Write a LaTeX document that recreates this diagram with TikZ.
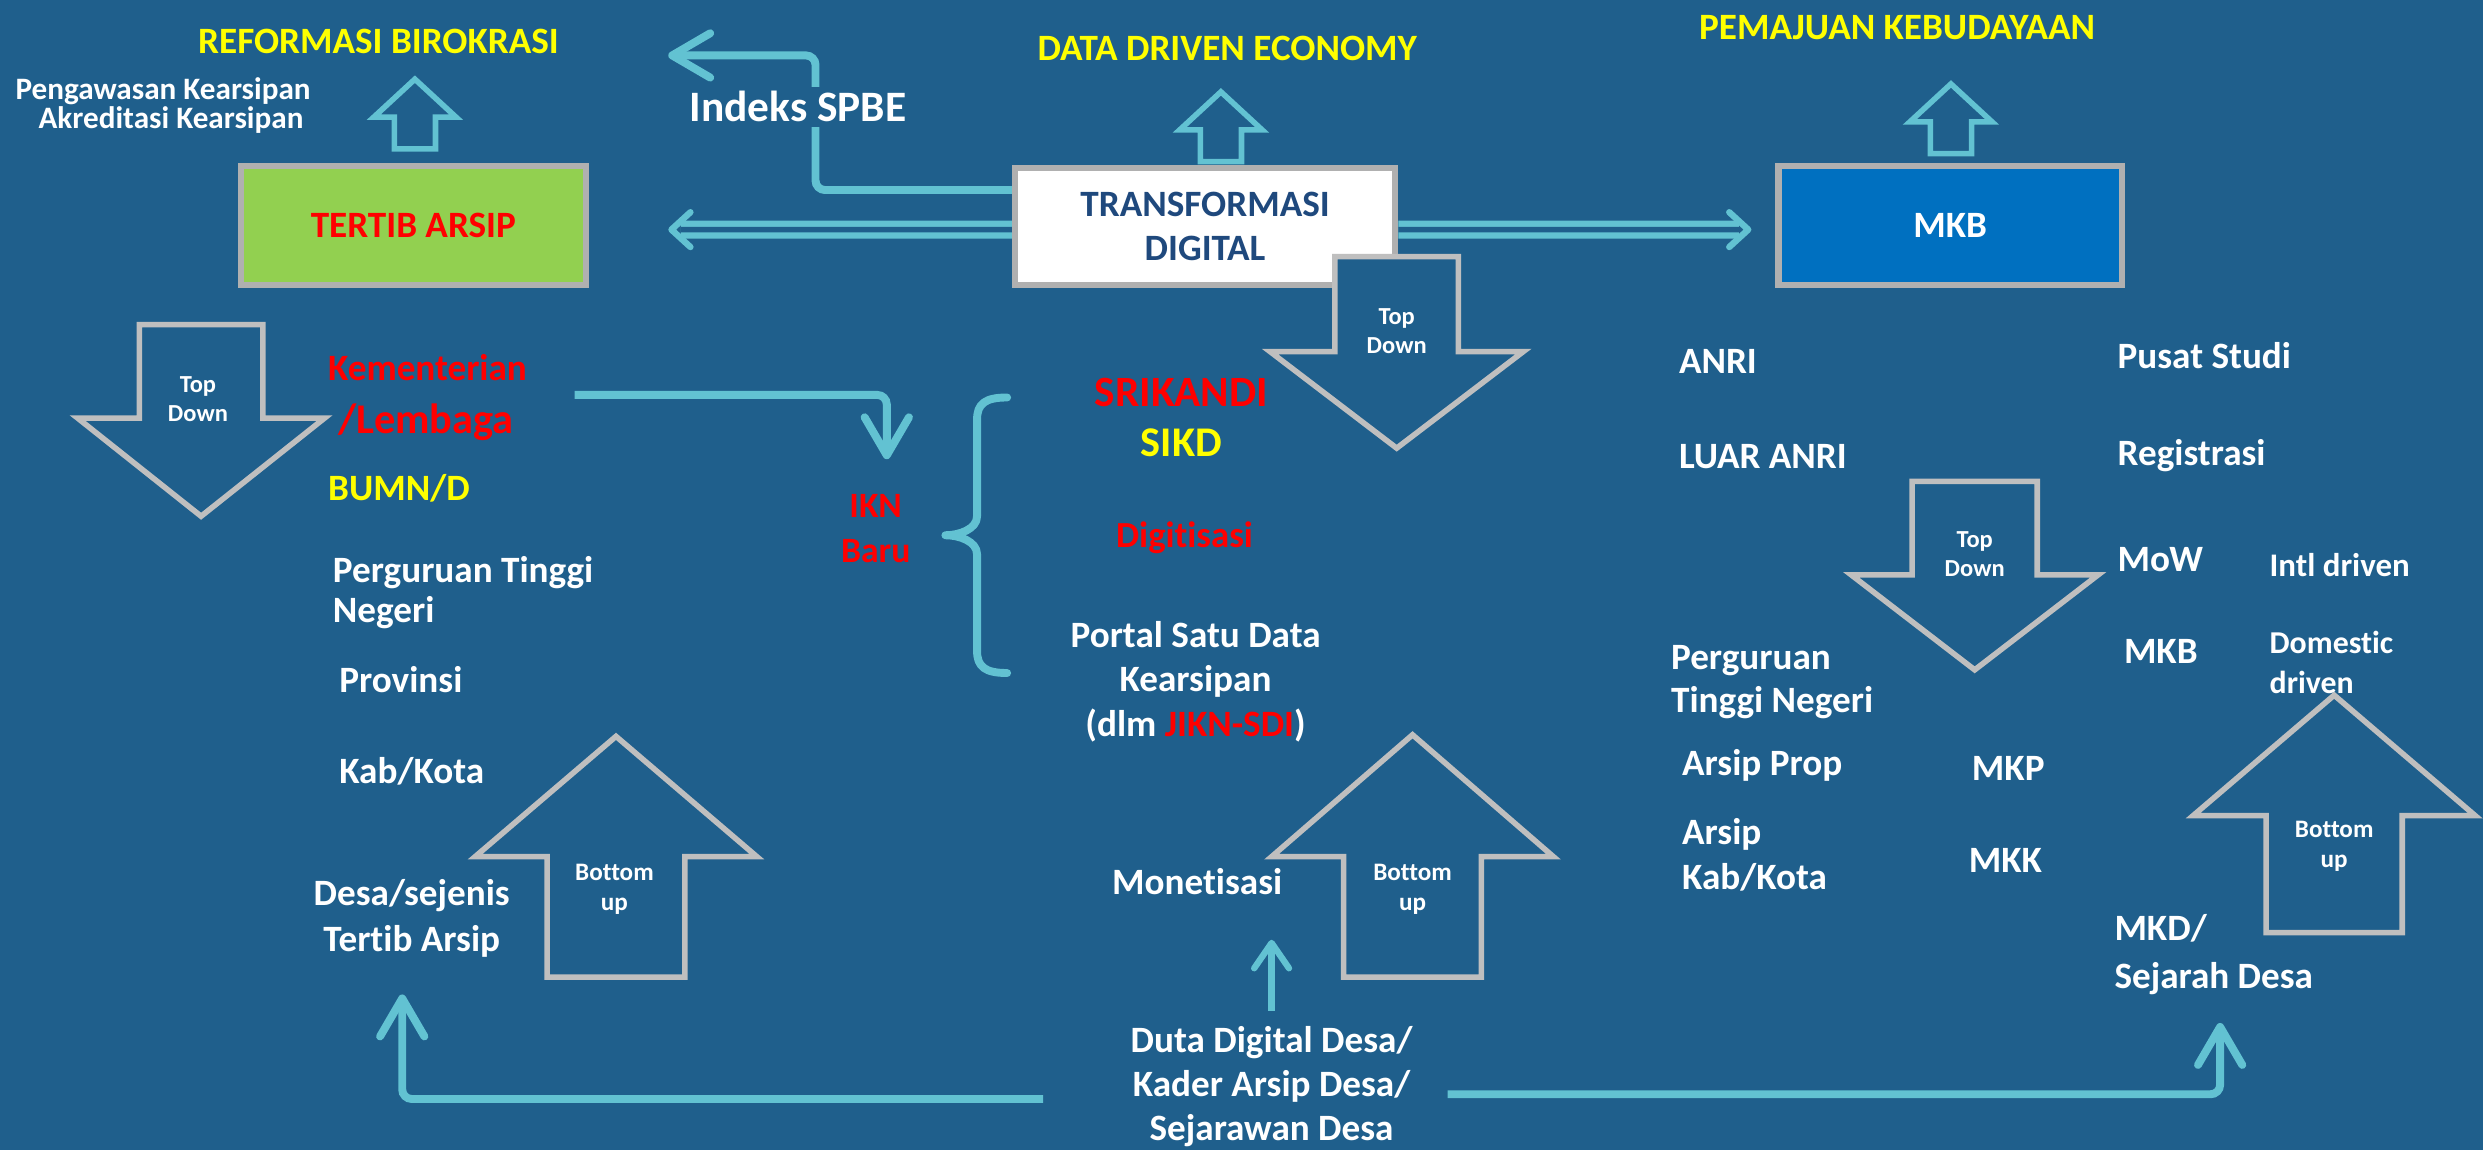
\documentclass[tikz,border=0pt]{standalone}
\usepackage{fontspec}
\setmainfont{Carlito}[Ligatures=NoCommon]
\usetikzlibrary{arrows.meta,calc}
\definecolor{bg}{HTML}{1F5F8C}
\definecolor{cy}{HTML}{62C2D2}
\definecolor{gr}{HTML}{BFBFBF}
\definecolor{boxgr}{HTML}{B0B0B0}
\definecolor{tdblue}{HTML}{1F497D}
\definecolor{ylw}{HTML}{FFFF00}
\definecolor{rd}{HTML}{FF0000}
\definecolor{grn}{HTML}{92D050}
\definecolor{mkbblue}{HTML}{0070C0}
\newcommand\fs[2]{\fontsize{#1}{#2}\selectfont}
\tikzset{
  pics/uparrow/.style n args={4}{code={
    \path[pic actions] (-#1,0) -- (-#1,-#3) -- (-#2,-#3) -- (0,{-#3-#4}) -- (#2,-#3) -- (#1,-#3) -- (#1,0) -- cycle;
  }},
  pics/downarrow/.style n args={4}{code={
    \path[pic actions] (-#1,0) -- (-#1,#3) -- (-#2,#3) -- (0,{#3+#4}) -- (#2,#3) -- (#1,#3) -- (#1,0) -- cycle;
  }},
}
\begin{document}
\begin{tikzpicture}[x=0.25mm,y=-0.25mm,
  txt/.style={inner sep=0pt, text=white, font=\bfseries\fs{16.7}{20}},
  hdr/.style={txt, text=ylw},
  box/.style={draw=boxgr, line width=1mm, minimum width=54.5mm, minimum height=18.75mm, inner sep=0pt, font=\bfseries\fs{16.7}{20}},
  conn/.style={draw=cy, line width=1.25mm, rounded corners=1.5mm, -{Straight Barb[length=6mm,width=7mm,round]}},
  hollowup/.style={draw=cy, line width=0.875mm},
  block/.style={draw=gr, fill=bg, line width=0.875mm},
  small/.style={inner sep=0pt, text=white, font=\bfseries\fs{11}{12.8}, align=center},
  dbl/.style={draw=cy, line width=1mm, double=bg, double distance=0.875mm},
  chev/.style={draw=cy, line width=1mm, line cap=round, line join=round},
  brace/.style={draw=cy, line width=1.25mm, line cap=round, line join=round},
]
\fill[bg] (0,0) rectangle (1568,726);
\useasboundingbox (0,0) rectangle (1568,726);

% headers
\node[hdr, anchor=base] (rb) at (239,34) {REFORMASI BIROKRASI};
\node[hdr, anchor=base] (dde) at (775,38) {DATA DRIVEN ECONOMY};
\node[hdr, anchor=base] (pk) at (1198,25) {PEMAJUAN KEBUDAYAAN};
\node[txt, font=\bfseries\fs{14}{16}, anchor=base] (pg) at (103,63) {Pengawasan Kearsipan};
\node[txt, font=\bfseries\fs{14}{16}, anchor=base] (ak) at (108,81) {Akreditasi Kearsipan};

% hollow up arrows
\pic[hollowup] at (262,94) {uparrow={13}{26}{20}{24}};
\pic[hollowup] at (771,102) {uparrow={13}{26}{20}{24}};
\pic[hollowup] at (1232,97) {uparrow={13}{26}{20}{24}};

% boxes
\node[box, fill=grn, text=rd] (ta) at (261,142.5) {TERTIB ARSIP};
\node[box, fill=white, text=tdblue, align=center, minimum width=60mm, minimum height=18.5mm] (td) at (761,143) {TRANSFORMASI\\DIGITAL};
\node[box, fill=mkbblue, text=white, minimum width=54.25mm] (mkb) at (1231.5,142.5) {MKB};

% elbow to reformasi
\coordinate (y120) at (0,120);
\coordinate (rbtip) at (422,35);
\draw[conn] (td.west |- y120) -| (515,35) -- (rbtip);
\node[txt, font=\bfseries\fs{19.5}{23}, anchor=base, fill=bg, inner sep=2pt] (spbe) at (504,77) {Indeks SPBE};

% double arrows
\coordinate (lt) at (424,145);
\coordinate (rt) at (1104,145);
\draw[dbl] ([yshift=-0.5mm]td.west) -- ([xshift=1.5mm]lt);
\draw[chev] ([shift={(12,-11)}]lt) -- (lt) -- ([shift={(12,11)}]lt);
\draw[dbl] ([yshift=-0.5mm]td.east) -- ([xshift=-1.5mm]rt);
\draw[chev] ([shift={(-12,-11)}]rt) -- (rt) -- ([shift={(-12,11)}]rt);

% top down arrows
\pic[block] at (882,162) {downarrow={39}{80}{60}{61}};
\node[small, anchor=base] (tdd1) at (882,223) {Top\\Down};
\pic[block] at (127,205) {downarrow={39}{78}{59}{62}};
\node[small, anchor=base] (tdd2) at (125,266) {Top\\Down};
\pic[block] at (1247,304) {downarrow={39.5}{78}{59}{60}};
\node[small, anchor=base] (tdd3) at (1247,364) {Top\\Down};

% bottom up arrows
\pic[block] at (389,617) {uparrow={43.5}{89}{76}{76}};
\node[small, font=\bfseries\fs{11.3}{13.5}, anchor=base] (bu1) at (388,575) {Bottom\\up};
\pic[block] at (892,617) {uparrow={43.5}{89}{76}{77}};
\node[small, font=\bfseries\fs{11.3}{13.5}, anchor=base] (bu2) at (892,575) {Bottom\\up};
\pic[block] at (1474,589) {uparrow={43}{89}{74}{76}};
\node[small, font=\bfseries\fs{11.3}{13.5}, anchor=base] (bu3) at (1474,548) {Bottom\\up};

% left column
\node[txt, text=rd, anchor=base] (kem) at (270,240) {Kementerian};
\node[txt, text=rd, font=\bfseries\fs{19}{23}, anchor=base] (lem) at (269,274) {/Lembaga};
\node[hdr, anchor=base west] (bumn) at (207,316) {BUMN/D};
\node[txt, anchor=base west, align=left, font=\bfseries\fs{16.7}{17.8}] (ptn) at (210,393) {Perguruan Tinggi\\Negeri};
\node[txt, anchor=base west] (prov) at (214,437) {Provinsi};
\node[txt, anchor=base west] (kab) at (214,495) {Kab/Kota};
\node[txt, anchor=base, align=center, font=\bfseries\fs{16.7}{20.6}] (desa) at (260,601) {Desa/sejenis\\Tertib Arsip};

% middle column
\node[txt, text=rd, anchor=base, align=center, font=\bfseries\fs{16}{20}] (ikn) at (553,355) {IKN\\Baru};
\node[txt, text=rd, font=\bfseries\fs{19.4}{23}, anchor=base] (srk) at (746,257) {SRIKANDI};
\node[txt, text=ylw, font=\bfseries\fs{19}{23}, anchor=base] (sikd) at (746,288) {SIKD};
\node[txt, text=rd, font=\bfseries\fs{16.5}{20}, anchor=base] (digi) at (748,346) {Digitisasi};
\node[txt, anchor=base, align=center] (portal) at (755,465) {Portal Satu Data\\Kearsipan\\(dlm {\color{rd}JIKN-SDI})};
\node[txt, anchor=base] (monet) at (756,565) {Monetisasi};
\node[txt, anchor=base, align=center, font=\bfseries\fs{16.7}{19.6}] (duta) at (803,720) {Duta Digital Desa/\\Kader Arsip Desa/\\Sejarawan Desa};

% right column
\node[txt, anchor=base west] (anri) at (1060,236) {ANRI};
\node[txt, anchor=base west] (luar) at (1060,296) {LUAR ANRI};
\node[txt, anchor=base west] (pusat) at (1337,233) {Pusat Studi};
\node[txt, anchor=base west] (reg) at (1337,294) {Registrasi};
\node[txt, anchor=base west] (mow) at (1337,361) {MoW};
\node[txt, anchor=base west, font=\bfseries\fs{14.8}{17.8}] (intl) at (1433,364) {Intl driven};
\node[txt, anchor=base west] (mkbt) at (1341,419) {MKB};
\node[txt, anchor=base west, align=left, font=\bfseries\fs{14.3}{17.8}] (dom) at (1433,438) {Domestic\\driven};
\node[txt, anchor=base west, align=left, font=\bfseries\fs{16.7}{19.2}] (ptn2) at (1055,450) {Perguruan\\Tinggi Negeri};
\node[txt, anchor=base west] (prop) at (1062,490) {Arsip Prop};
\node[txt, anchor=base west] (mkp) at (1245,493) {MKP};
\node[txt, anchor=base west, align=left, font=\bfseries\fs{16.7}{20.6}] (akk) at (1062,562) {Arsip\\Kab/Kota};
\node[txt, anchor=base west] (mkk) at (1243,551) {MKK};
\node[txt, anchor=base west, align=left, font=\bfseries\fs{16.7}{21.3}] (mkd) at (1335,624) {MKD/\\Sejarah Desa};

% brace
\draw[brace] (636,251) .. controls (622,251) and (617,255) .. (617,265) -- (617,326) .. controls (617,334) and (606,338) .. (597,338) .. controls (606,338) and (617,342) .. (617,350) -- (617,411) .. controls (617,421) and (622,425) .. (636,425);

% connectors
\coordinate (iknin) at (560,290);
\draw[conn, shorten <=8.5mm] ($(kem.east)!.5!(lem.east)$) -| (iknin);
\coordinate (y694) at (0,694);
\coordinate (y691) at (0,691);
\coordinate (ltip) at (254,628);
\coordinate (rtip) at (1402,646);
\draw[conn, shorten <=13.75mm] (duta.west |- y694) -| (ltip);
\draw[conn, shorten <=5.5mm] (duta.east |- y691) -| (rtip);
\draw[conn, line width=1mm, shorten <=2.5mm, shorten >=7mm, -{Straight Barb[length=4mm,width=5.5mm,round]}] (duta.north) -- (duta.north |- monet.south);
\end{tikzpicture}
\end{document}
